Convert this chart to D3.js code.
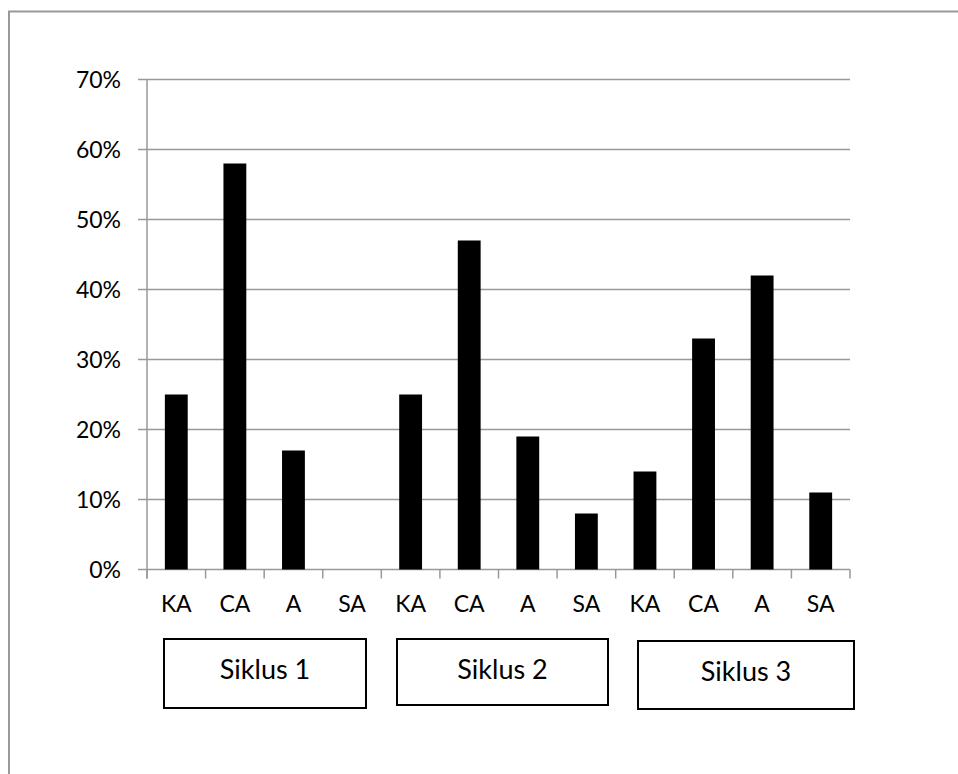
<!DOCTYPE html>
<html>
<head>
<meta charset="utf-8">
<script src="https://cdn.jsdelivr.net/npm/d3@7"></script>
<style>
  html, body { margin: 0; padding: 0; background: #fff; }
  svg { display: block; }
  text { font-family: Lato, "Open Sans", sans-serif; fill: #000; }
</style>
</head>
<body>
<svg id="chart" width="958" height="774"></svg>
<script>
// ---- data ----
const categories = ["KA", "CA", "A", "SA", "KA", "CA", "A", "SA", "KA", "CA", "A", "SA"];
const values = [25, 58, 17, 0, 25, 47, 19, 8, 14, 33, 42, 11];
const yTicks = [0, 10, 20, 30, 40, 50, 60, 70];
const cycles = ["Siklus 1", "Siklus 2", "Siklus 3"];

const svg = d3.select("#chart");

// outer frame (top and left edges visible)
svg.append("path")
  .attr("d", "M9,774 L9,11.5 L958,11.5")
  .attr("fill", "none")
  .attr("stroke", "#999")
  .attr("stroke-width", 2);

const pLeft = 147, pRight = 850, pTop = 79.5, pBottom = 569.5;

const x = d3.scaleBand()
  .domain(d3.range(categories.length))
  .range([pLeft, pRight])
  .padding(0);

const y = d3.scaleLinear().domain([0, 70]).range([pBottom, pTop]);

// gridlines
svg.append("g")
  .selectAll("line")
  .data(yTicks)
  .join("line")
  .attr("x1", pLeft - 9)
  .attr("x2", pRight)
  .attr("y1", d => y(d))
  .attr("y2", d => y(d))
  .attr("stroke", "#999")
  .attr("stroke-width", 1.5);

// y axis line
svg.append("line")
  .attr("x1", pLeft).attr("x2", pLeft)
  .attr("y1", pTop).attr("y2", pBottom + 9)
  .attr("stroke", "#999").attr("stroke-width", 1.5);

// x ticks
const xTickPos = d3.range(categories.length + 1).map(i => pLeft + i * x.step());
svg.append("g")
  .selectAll("line")
  .data(xTickPos)
  .join("line")
  .attr("x1", d => d).attr("x2", d => d)
  .attr("y1", pBottom).attr("y2", pBottom + 9)
  .attr("stroke", "#999").attr("stroke-width", 1.5);

// y labels
svg.append("g")
  .selectAll("text")
  .data(yTicks)
  .join("text")
  .attr("x", 121)
  .attr("y", d => y(d))
  .attr("dy", "0.35em")
  .attr("text-anchor", "end")
  .attr("font-size", 23)
  .text(d => d + "%");

// bars
const barW = x.bandwidth() * 0.39;
svg.append("g")
  .selectAll("rect")
  .data(values)
  .join("rect")
  .attr("x", (d, i) => x(i) + x.bandwidth() / 2 - barW / 2)
  .attr("width", barW)
  .attr("y", d => y(d))
  .attr("height", d => y(0) - y(d))
  .attr("fill", "#000");

// x labels
svg.append("g")
  .selectAll("text")
  .data(categories)
  .join("text")
  .attr("x", (d, i) => x(i) + x.bandwidth() / 2)
  .attr("y", 612)
  .attr("text-anchor", "middle")
  .attr("font-size", 23)
  .text(d => d);

// cycle boxes (text boxes below the axis)
const boxX = [164, 397, 638];
const boxW = [202, 211, 216];
const boxY = [639, 639, 641];
const boxH = [69, 66, 68];
const g = svg.append("g");
cycles.forEach((c, i) => {
  g.append("rect")
    .attr("x", boxX[i]).attr("y", boxY[i])
    .attr("width", boxW[i]).attr("height", boxH[i])
    .attr("fill", "#fff").attr("stroke", "#000").attr("stroke-width", 2);
  g.append("text")
    .attr("x", boxX[i] + boxW[i] / 2)
    .attr("y", boxY[i] + 40)
    .attr("text-anchor", "middle")
    .attr("font-size", 27)
    .text(c);
});
</script>
</body>
</html>
